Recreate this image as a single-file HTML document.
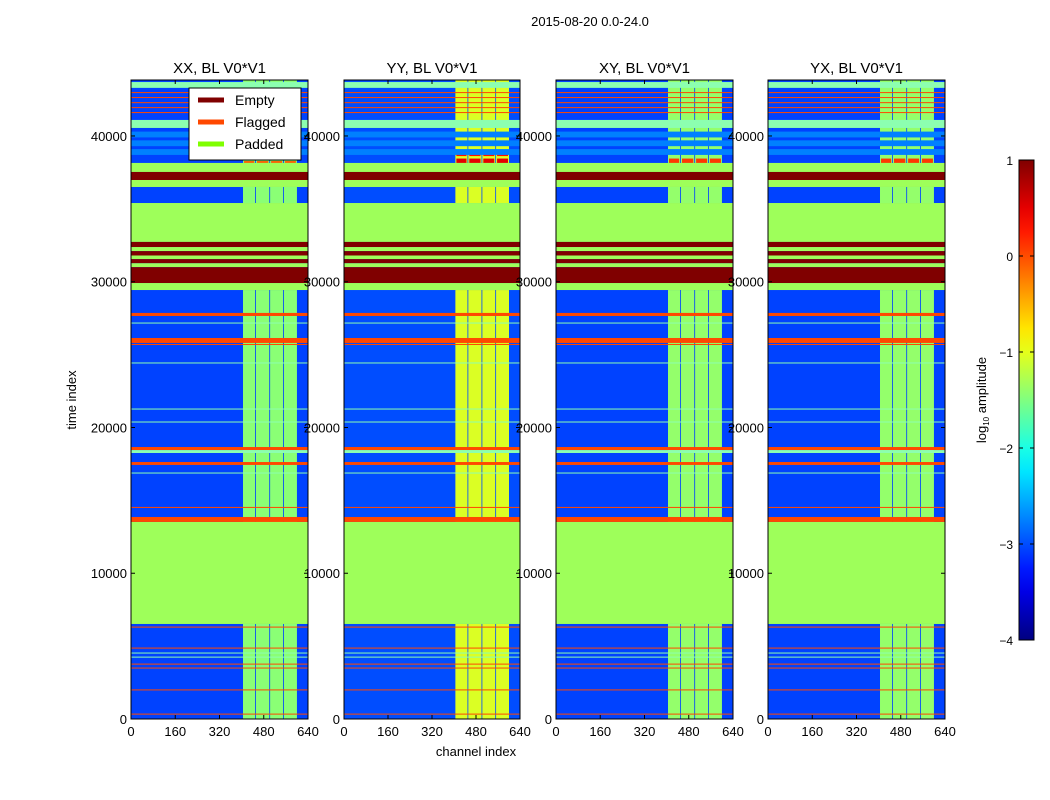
<!DOCTYPE html>
<html><head><meta charset="utf-8">
<style>
html,body{margin:0;padding:0;background:#fff;}
svg{display:block;font-family:"Liberation Sans",sans-serif;}
</style></head>
<body>
<svg id="fig" width="1050" height="800" viewBox="0 0 1050 800"></svg>
<script>
// ---- data (time index / channel index / log10 amplitude) ----
const panelTitles = ["XX, BL V0*V1","YY, BL V0*V1","XY, BL V0*V1","YX, BL V0*V1"];
const panelBg = [-3.05,-3.0,-3.05,-3.05];
const panelColVal = [-1.45,-1.05,-1.4,-1.4];
const xTicks = [0,160,320,480,640];
const yTicks = [0,10000,20000,30000,40000];
const cbTicks = [1,0,-1,-2,-3,-4];
const tMax = 43840;
const chMax = 640;
// data regions (rows with measured data)
const dataStart = [0,13520,35400,38150];
const dataEnd   = [6520,29430,36500,43840];
// bright channel columns
const colStart = [405,452,503,553];
const colEnd   = [449,500,550,600];
// bands: E=empty, F=flagged, P=padded, L=light line, C=cyan-ish rows
const bandStart = [37530,36980,36500,32730,32380,32100,31800,31550,31270,31000,29910,29430,6520,13520,
  27650,25800,25660,18450,18250,17430,14480,6280,4840,3740,3470,1970,310,
  27150,24410,21250,20360,16860,4510,4230,
  42950,42610,42260,41920,41580,40550,43300,38700,39300,39900];
const bandEnd   = [38150,37530,36980,35400,32730,32380,32100,31800,31550,31270,31000,29910,13520,13860,
  27860,26140,25730,18660,18450,17630,14550,6340,4900,3800,3530,2030,370,
  27200,24460,21300,20410,16910,4560,4280,
  43010,42670,42320,41980,41640,41100,43700,39100,39700,40300];
const bandType  = ["P","E","P","P","E","P","E","P","E","P","E","P","P","F",
  "F","F","F","F","L","F","F","F","F","F","F","F","F",
  "L","L","L","L","L","L","L",
  "F","F","F","F","F","L","L","C","C","C"];
// hot spots inside the bright columns (panel index, t range, value)
const spotPanel = [1,1,2,3,0];
const spotT0    = [38150,38620,38150,38150,38150];
const spotT1    = [38450,38900,38450,38450,38280];
const spotVal   = [0.5,0.3,0.1,0.1,-0.1];

// ---- helpers ----
function jet(v){ // v in log units -4..1
  let x=(v+4)/5; x=Math.max(0,Math.min(1,x));
  const f=t=>Math.max(0,Math.min(1,t));
  const r=f(1.5-Math.abs(4*x-3)), g=f(1.5-Math.abs(4*x-2)), b=f(1.5-Math.abs(4*x-1));
  return `rgb(${Math.round(r*255)},${Math.round(g*255)},${Math.round(b*255)})`;
}
const bandColor = {E:"#800000",F:"#ff4800",P:"#9eff5a",L:"#8cffb0",C:jet(-2.75)};
const NS="http://www.w3.org/2000/svg";
const svg=document.getElementById('fig');
function mk(tag,attrs,parent){const e=document.createElementNS(NS,tag);for(const k in attrs)e.setAttribute(k,attrs[k]);(parent||svg).appendChild(e);return e;}

const lefts=[131,344,556,768], widths=[177,176,177,177], plotTop=80, plotBot=719;

let st=mk('text',{x:590,y:26,'text-anchor':'middle','font-size':13});
st.textContent="2015-08-20 0.0-24.0";



for(let p=0;p<4;p++){
  const L=lefts[p], W=widths[p];
  const xs=ch=>L+ch/chMax*W;
  const ys=t=>plotBot-t/tMax*(plotBot-plotTop);
  const g=mk('g',{});
  
  
  mk('rect',{x:L,y:plotTop,width:W,height:plotBot-plotTop,fill:jet(panelBg[p])},g);
  for(let d=0;d<dataStart.length;d++){
    const y0=ys(dataEnd[d]), y1=ys(dataStart[d]);
    const r=mk('rect',{x:L,y:y0,width:W,height:y1-y0,fill:jet(panelBg[p])},g);
    
    
    for(let c=0;c<colStart.length;c++){
      const cr=mk('rect',{x:xs(colStart[c]),y:y0,width:xs(colEnd[c])-xs(colStart[c]),height:y1-y0,fill:jet(panelColVal[p])},g);
      
      
    }
  }
  for(let s=0;s<spotPanel.length;s++){
    if(spotPanel[s]!==p) continue;
    for(let c=0;c<colStart.length;c++){
      const sr=mk('rect',{x:xs(colStart[c])+1,y:ys(spotT1[s]),width:xs(colEnd[c])-xs(colStart[c])-2,height:ys(spotT0[s])-ys(spotT1[s]),fill:jet(spotVal[s])},g);
      
      
    }
  }
  for(let b=0;b<bandStart.length;b++){
    const y0=ys(bandEnd[b]), y1=ys(bandStart[b]);
    const br=mk('rect',{x:L,y:y0,width:W,height:Math.max(1,y1-y0),fill:bandColor[bandType[b]]},g);
    
    
  }
  mk('rect',{x:L,y:plotTop,width:W,height:plotBot-plotTop,fill:'none',stroke:'#000','stroke-width':1},g);
  const tt=mk('text',{x:L+W/2,y:73,'text-anchor':'middle','font-size':15},g);
  tt.textContent=panelTitles[p];
  
  
  xTicks.forEach(v=>{
    const x=xs(v);
    mk('line',{x1:x,y1:plotBot,x2:x,y2:plotBot-4,stroke:'#000'},g);
    mk('line',{x1:x,y1:plotTop,x2:x,y2:plotTop+4,stroke:'#000'},g);
    const t=mk('text',{x:x,y:plotBot+17,'text-anchor':'middle','font-size':13},g);
    t.textContent=v;
    
    
  });
  yTicks.forEach(v=>{
    const y=ys(v);
    mk('line',{x1:L,y1:y,x2:L+4,y2:y,stroke:'#000'},g);
    mk('line',{x1:L+W,y1:y,x2:L+W-4,y2:y,stroke:'#000'},g);
    const t=mk('text',{x:L-4,y:y+5,'text-anchor':'end','font-size':13},g);
    t.textContent=v;
    
    
  });
}

let yt=mk('text',{x:76,y:400,'text-anchor':'middle','font-size':13,transform:'rotate(-90 76 400)'});
yt.textContent="time index";


let xt=mk('text',{x:476,y:756,'text-anchor':'middle','font-size':13});
xt.textContent="channel index";



const lg=mk('g',{});


mk('rect',{x:189,y:88,width:112,height:72,fill:'#fff',stroke:'#000'},lg);
const legNames=["Empty","Flagged","Padded"], legCols=["#800000","#ff4800","#7fff00"];
legNames.forEach((n,i)=>{
  const y=100+i*22;
  const ln=mk('line',{x1:198,y1:y,x2:224,y2:y,stroke:legCols[i],'stroke-width':5},lg);
  
  
  const t=mk('text',{x:235,y:y+5,'font-size':14},lg);
  t.textContent=n;
  
  
});

const cb=mk('g',{});


const defs=mk('defs',{});
const grad=mk('linearGradient',{id:'jetg',x1:0,y1:1,x2:0,y2:0},defs);
for(let i=0;i<=20;i++){const v=-4+i*5/20;mk('stop',{offset:(i/20),'stop-color':jet(v)},grad);}
const cbTop=160, cbBot=640, cbX=1019, cbW=15;
mk('rect',{x:cbX,y:cbTop,width:cbW,height:cbBot-cbTop,fill:'url(#jetg)',stroke:'#000'},cb);
const cbY=v=>cbBot-(v+4)/5*(cbBot-cbTop);
cbTicks.forEach(v=>{
  const y=cbY(v);
  mk('line',{x1:cbX,y1:y,x2:cbX+4,y2:y,stroke:'#000'},cb);
  mk('line',{x1:cbX+cbW,y1:y,x2:cbX+cbW-4,y2:y,stroke:'#000'},cb);
  const t=mk('text',{x:1013,y:y+5,'text-anchor':'end','font-size':12},cb);
  t.textContent=(v<0?'\u2212'+(-v):v);
  
  
});
let cl=mk('text',{x:986,y:400,'text-anchor':'middle','font-size':13,transform:'rotate(-90 986 400)'});
cl.innerHTML='log<tspan font-size="8" dy="3">10</tspan><tspan dy="-3"> amplitude</tspan>';


</script>
</body></html>
